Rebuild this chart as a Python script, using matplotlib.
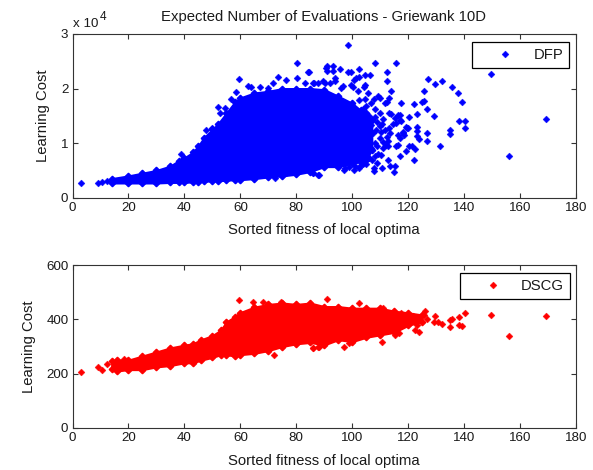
import matplotlib
matplotlib.use("Agg")
import matplotlib.pyplot as plt

plt.rcParams['font.family'] = ['Liberation Sans', 'DejaVu Sans']
W, H = 593, 470

dfp_core_x = [14, 20, 25, 30, 35, 38, 40, 43, 45, 47, 50, 52, 55, 58, 60, 65, 70, 75, 80, 85, 90, 95, 100, 103, 105, 107]
dfp_core_lo = [.27, .27, .27, .27, .28, .28, .28, .29, .29, .30, .31, .31, .32, .33, .33, .35, .38, .40, .43, .48, .57, .57, .63, .66, .70, .88]
dfp_core_hi = [.35, .40, .45, .50, .58, .68, .73, .83, .95, 1.10, 1.25, 1.35, 1.55, 1.75, 1.83, 1.92, 1.95, 2.00, 2.00, 2.00, 1.98, 1.86, 1.73, 1.60, 1.55, 1.42]

dscg_core_x = [14, 16, 20, 25, 30, 35, 40, 43, 46, 50, 53, 55, 58, 60, 65, 70, 75, 80, 85, 90, 95, 100, 105, 110, 115, 120, 125]
dscg_core_lo = [218, 210, 215, 215, 225, 230, 240, 240, 250, 260, 270, 270, 265, 270, 275, 285, 300, 310, 315, 306, 325, 318, 334, 343, 352, 378, 392]
dscg_core_hi = [245, 250, 250, 265, 280, 295, 305, 310, 325, 340, 360, 390, 410, 425, 445, 455, 460, 455, 460, 447, 447, 441, 441, 441, 430, 424, 416]

# Individually visible points
dfp_x = [98.4, 108, 115.6, 112.5, 112.5, 127, 129.6, 132, 135.8, 137.7, 139.2, 125.7, 125.6, 124.8, 122, 117.5, 114, 126.6, 123.2, 129.1, 120.4, 138.3, 140.4, 140.4, 135, 135, 126.6, 126.6, 123.2, 123.2, 123.2, 124, 131.3, 122, 149.6, 169.1, 156.2, 117,
         90.9, 90.9, 93.1, 93.1, 95.8, 98.4, 99.6, 102.6, 106.5, 104.4, 102.6, 101.4, 100.8, 93.7, 93.7, 91.9, 89.5, 87.7, 85.9, 84.1, 96.6, 96, 99.6, 100.2, 104.4, 104.2, 102, 105.6, 109.2, 109.8, 113.2, 112.5, 111.6, 107.7, 104.4, 106.8, 102.6,
         113.2, 114, 116.4, 117.2, 115.2, 117, 115.8, 114.6, 117.6, 110.8, 109.8, 110.4, 111.6, 113.4, 112.5, 116.4, 117, 118.2, 119.6, 112.8, 112, 111, 115.8, 116.4, 112.8, 108.4, 106.8, 107.4, 108, 109.2, 110.4, 105.6, 106.8, 119.4, 120, 118.2, 118.4, 120.4, 122.4, 121.2, 119.4,
         115.2, 115, 112.8, 113.4, 110.8, 108.9, 107.7, 107.7, 103.8, 102.6, 100.8, 97.5, 97, 87.9, 85.9,
         2.9, 9.2, 10.4, 12.4, 38.8, 52.1, 52.6, 47.9, 50, 59.5, 58.6, 56.8, 54.4, 62.7, 63.9, 66.9, 69.9, 73.5, 71.7, 76.4, 80.4, 80.4, 84.4, 83, 86.5, 90.7, 90.1, 88.1, 86, 76.4, 72.3,
         104, 106, 108, 109, 110, 111, 108, 106, 104, 109, 111, 113, 105, 107, 103, 101, 99, 105, 108, 110]
dfp_y = [2.79, 2.47, 2.47, 2.30, 2.14, 2.17, 2.08, 2.13, 2.02, 1.91, 1.76, 1.96, 1.78, 1.76, 1.72, 1.74, 1.96, 1.62, 1.53, 1.49, 1.47, 1.40, 1.40, 1.27, 1.24, 1.16, 1.19, 1.04, 1.30, 1.23, 1.13, 1.08, .955, .69, 2.27, 1.445, .765, .765,
         2.41, 2.33, 2.41, 2.33, 2.36, 2.30, 2.30, 2.36, 2.25, 2.24, 2.21, 2.19, 2.16, 2.19, 2.13, 2.10, 2.13, 2.11, 2.10, 2.30, 2.05, 2.01, 2.07, 2.03, 2.07, 2.03, 1.95, 1.92, 1.87, 1.82, 1.82, 1.76, 1.73, 1.81, 1.81, 1.73, 1.79,
         1.55, 1.54, 1.52, 1.52, 1.46, 1.43, 1.37, 1.35, 1.40, 1.35, 1.32, 1.21, 1.24, 1.18, 1.12, 1.15, 1.09, 1.19, 1.27, 1.03, .97, .91, .94, .97, .95, 1.24, 1.33, 1.18, 1.00, .81, .78, .75, .91, 1.30, 1.27, 1.21, 1.15, .94, .89, .95, .86,
         .58, .48, .69, .59, .55, .63, .54, .49, .61, .54, .51, .54, .50, .42, .45,
         .275, .275, .29, .31, .80, 1.67, 1.55, 1.24, 1.27, 2.17, 1.93, 1.81, 1.64, 2.04, 2.02, 2.03, 2.01, 2.22, 2.10, 2.16, 2.47, 2.19, 2.30, 2.10, 2.10, 2.38, 2.10, .42, .45, .45, .37,
         1.62, 1.50, 1.48, 1.38, 1.10, 1.02, .76, .72, .68, .95, 1.45, 1.28, .62, .70, .60, .58, .57, 1.68, 1.62, 1.55]

dscg_x = [2.9, 9.2, 10.4, 12.4, 18.3, 59.5, 64.5, 68.1, 74.6, 72, 86, 88.1, 91, 102.6, 85.9, 87.9, 97.2, 99, 110.8, 126, 125.6, 129.6, 140.4, 138.3, 135.8, 135, 135, 138, 139.2, 130.8, 132, 129.2, 126.6, 123.6, 149.6, 169.1, 156.2, 123, 122.4, 123.9, 115.2, 116.8, 115.2, 115.8, 111, 117.6, 121.8]
dscg_y = [207, 224, 212, 236, 255, 472, 463, 463, 465, 267, 293, 300, 475, 459, 294, 300, 300, 312, 317, 429, 416, 413, 423, 410, 401, 396, 371, 380, 376, 392, 383, 392, 401, 404, 416, 413, 339, 380, 361, 352, 343, 349, 355, 380, 441, 423, 414]

x_ticks = list(range(0, 181, 20))
dfp_ticks = [0, 1, 2, 3]
dscg_ticks = [0, 200, 400, 600]
title = 'Expected Number of Evaluations - Griewank 10D'
xlabel = 'Sorted fitness of local optima'
ylabel = 'Learning Cost'
FS = 10.7
TICK_FS = 9.6
TXT = '#1a1a1a'

fig = plt.figure(figsize=(W / 100, H / 100), dpi=100)


def make_axes(top, bottom, ylabel_px):
    ax = fig.add_axes([72.5 / W, 1 - bottom / H, (576 - 72.5) / W, (bottom - top) / H])
    for s in ax.spines.values():
        s.set_linewidth(0.8)
        s.set_color('#333333')
    ax.tick_params(direction='in', top=True, right=True, length=3.5, width=0.8,
                   labelsize=TICK_FS, colors='#333333', labelcolor=TXT, pad=3)
    ax.set_xlim(0, 180)
    ax.set_xticks(x_ticks)
    ax.set_xlabel(xlabel, fontsize=FS, color=TXT)
    ax.xaxis.set_label_coords((323.5 - 72.5) / 503.5, -(32.5 / (bottom - top)), transform=ax.transAxes)
    ax.xaxis.label.set_va('center')
    ax.set_ylabel(ylabel, fontsize=FS, color=TXT)
    ax.yaxis.set_label_coords((ylabel_px - 72.5) / 503.5, 0.5, transform=ax.transAxes)
    ax.yaxis.label.set_va('center')
    return ax


def draw(ax, cx, lo, hi, px, py, color, label, anchor):
    ax.fill_between(cx, lo, hi, color=color, lw=1.5, zorder=2)
    ax.plot(cx + cx, lo + hi, ls='none', marker='D', ms=3.3, color=color, zorder=2)
    ax.plot(px, py, ls='none', marker='D', ms=3.5, mew=0.3, color=color, zorder=3, label=label)
    leg = ax.legend(loc='upper right', bbox_to_anchor=anchor, bbox_transform=fig.transFigure,
                    fancybox=False, framealpha=1, edgecolor='black', fontsize=FS,
                    handlelength=3.6, handletextpad=0.1, borderpad=0.4, borderaxespad=0, labelcolor=TXT)
    leg.get_frame().set_linewidth(0.9)


ax1 = make_axes(34, 197.7, 43)
ax1.set_ylim(0, 3)
ax1.set_yticks(dfp_ticks)
draw(ax1, dfp_core_x, dfp_core_lo, dfp_core_hi, dfp_x, dfp_y, '#0000ff', 'DFP', (569 / W, 1 - 42 / H))
fig.text(323.5 / W, 1 - 17 / H, title, fontsize=FS, color=TXT, ha='center', va='center')
fig.text(73 / W, 1 - 27 / H, 'x 10', fontsize=TICK_FS, color=TXT, va='baseline')
fig.text(100 / W, 1 - 20 / H, '4', fontsize=TICK_FS - 1, color=TXT, va='baseline')

ax2 = make_axes(265, 428, 29)
ax2.set_ylim(0, 600)
ax2.set_yticks(dscg_ticks)
draw(ax2, dscg_core_x, dscg_core_lo, dscg_core_hi, dscg_x, dscg_y, '#ff0000', 'DSCG', (570 / W, 1 - 273 / H))

fig.savefig('out.png', dpi=100)
